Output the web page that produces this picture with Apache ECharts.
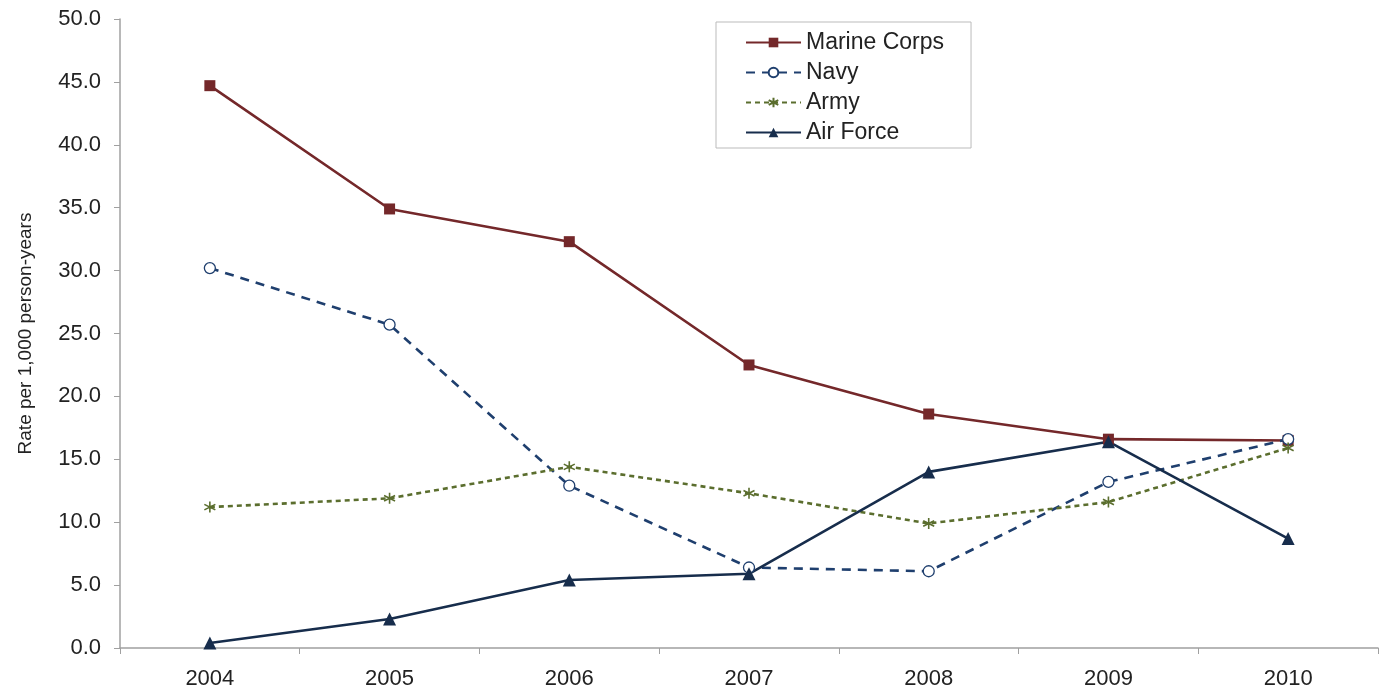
<!DOCTYPE html>
<html><head><meta charset="utf-8">
<script src="https://cdn.jsdelivr.net/npm/echarts@6/dist/echarts.min.js"></script>
<style>html,body{margin:0;padding:0;background:#fff}#c{width:1380px;height:691px}</style>
</head><body><div id="c"></div>
<script>
const years = ['2004','2005','2006','2007','2008','2009','2010'];
const marineCorps = [44.7, 34.9, 32.3, 22.5, 18.6, 16.6, 16.5];
const navy = [30.2, 25.7, 12.9, 6.4, 6.1, 13.2, 16.6];
const army = [11.2, 11.9, 14.4, 12.3, 9.9, 11.6, 15.9];
const airForce = [0.4, 2.3, 5.4, 5.9, 14.0, 16.4, 8.7];

const chart = echarts.init(document.getElementById('c'));
const font = 'Liberation Sans, Arial, sans-serif';
function s(name, data, color, type, symbol, size, itemStyle) {
  return {
    name, type: 'line', data,
    symbol, symbolSize: size,
    showAllSymbol: true,
    lineStyle: {color, width: 2.6, type},
    itemStyle: itemStyle || {color, borderWidth: 0},
    emphasis: {disabled: true}
  };
}
const starPath = 'path://M0,-1L0,1M-0.87,-0.5L0.87,0.5M-0.87,0.5L0.87,-0.5';
chart.setOption({
  animation: false,
  textStyle: {fontFamily: font},
  grid: {left: 120, right: 2, top: 19, bottom: 43, containLabel: false},
  legend: {
    orient: 'vertical', left: 716, top: 22,
    padding: [9, 27, 4, 29],
    backgroundColor: '#fff',
    borderColor: '#bbb', borderWidth: 1,
    itemWidth: 55, itemHeight: 12, itemGap: 7,
    textStyle: {fontSize: 23, lineHeight: 23, color: '#222', fontFamily: font},
    data: ['Marine Corps', 'Navy', 'Army', 'Air Force']
  },
  xAxis: {
    type: 'category', data: years, boundaryGap: true,
    axisLine: {lineStyle: {color: '#a0a0a0', width: 1.5}},
    axisTick: {show: true, length: 6, lineStyle: {color: '#a0a0a0'}},
    axisLabel: {fontSize: 22, color: '#222', margin: 20}
  },
  yAxis: {
    type: 'value', min: 0, max: 50, interval: 5,
    name: 'Rate per 1,000 person-years', nameLocation: 'middle', nameGap: 85,
    nameTextStyle: {fontSize: 19, color: '#222'},
    axisLine: {show: true, lineStyle: {color: '#a0a0a0', width: 1.5}},
    axisTick: {show: true, length: 6, lineStyle: {color: '#a0a0a0'}},
    splitLine: {show: false},
    axisLabel: {fontSize: 22, color: '#222', margin: 19, formatter: v => v.toFixed(1)}
  },
  series: [
    s('Marine Corps', marineCorps, '#74282A', 'solid', 'rect', 11),
    s('Navy', navy, '#1F3F6E', [9, 7], 'circle', 11, {color: '#fff', borderColor: '#1F3F6E', borderWidth: 1.3}),
    s('Army', army, '#5B6E2E', [5, 4], starPath, 11, {color: 'none', borderColor: '#5B6E2E', borderWidth: 1.6}),
    s('Air Force', airForce, '#172D4C', 'solid', 'triangle', 13)
  ]
});
</script></body></html>
